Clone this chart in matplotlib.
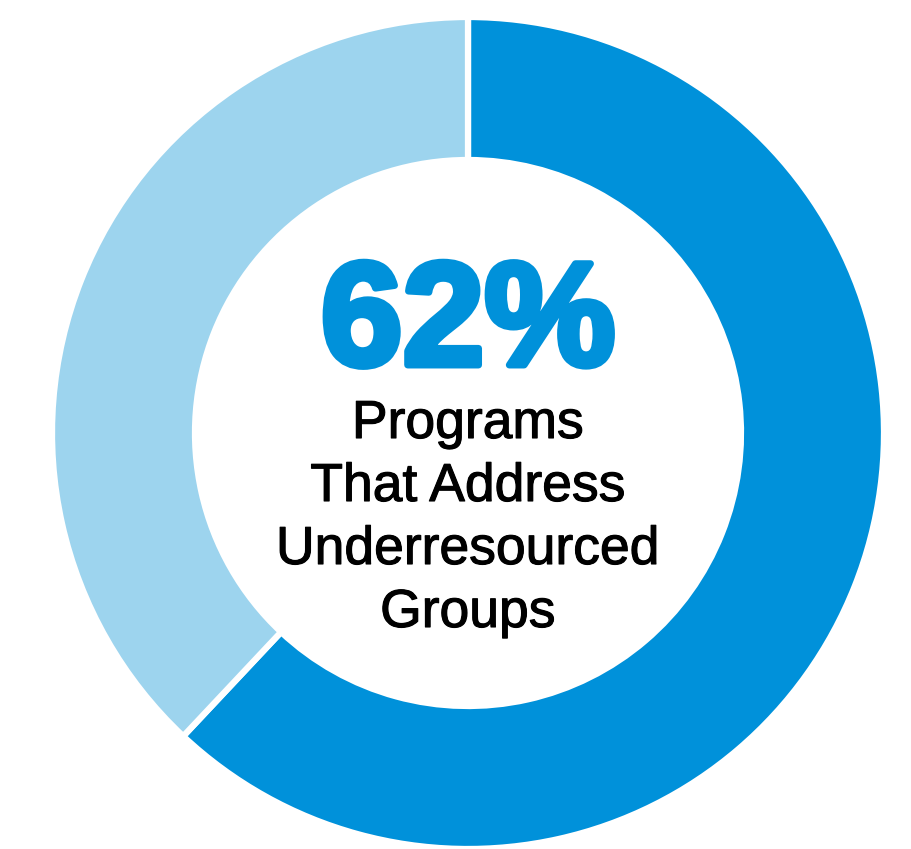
import matplotlib
matplotlib.use("Agg")
import matplotlib.pyplot as plt
import matplotlib.patheffects as pe

# Share of programs
labels = ["Address underresourced groups", "Other programs"]
shares = [62, 38]
colors = ["#0091DA", "#9DD4EE"]

headline = "62%"
caption_lines = ["Programs", "That Address", "Underresourced", "Groups"]

W, H = 912, 849
fig = plt.figure(figsize=(W / 100, H / 100), dpi=100)
ax = fig.add_axes([0, 0, 1, 1])

cx, cy = 468, 416
r_out = 416
ring = 143

ax.pie(shares, colors=colors, startangle=90, counterclock=False,
       center=(cx, cy), radius=r_out, frame=True,
       wedgeprops=dict(width=ring, edgecolor="white", linewidth=4.5))
ax.set_xlim(0, W)
ax.set_ylim(0, H)
ax.set_aspect("equal")
ax.axis("off")

font = ["Liberation Sans", "DejaVu Sans"]
ax.text(cx, H - 365, headline, ha="center", va="baseline", fontsize=106,
        fontweight="bold", color=colors[0], family=font,
        path_effects=[pe.withStroke(linewidth=5, foreground=colors[0])])

baselines = [438, 501, 564, 627]
for line, yb in zip(caption_lines, baselines):
    ax.text(cx, H - yb, line, ha="center", va="baseline", fontsize=38.5,
            color="black", family=font,
            path_effects=[pe.withStroke(linewidth=0.8, foreground="black")])

fig.savefig("out.png", dpi=100, facecolor="white")
